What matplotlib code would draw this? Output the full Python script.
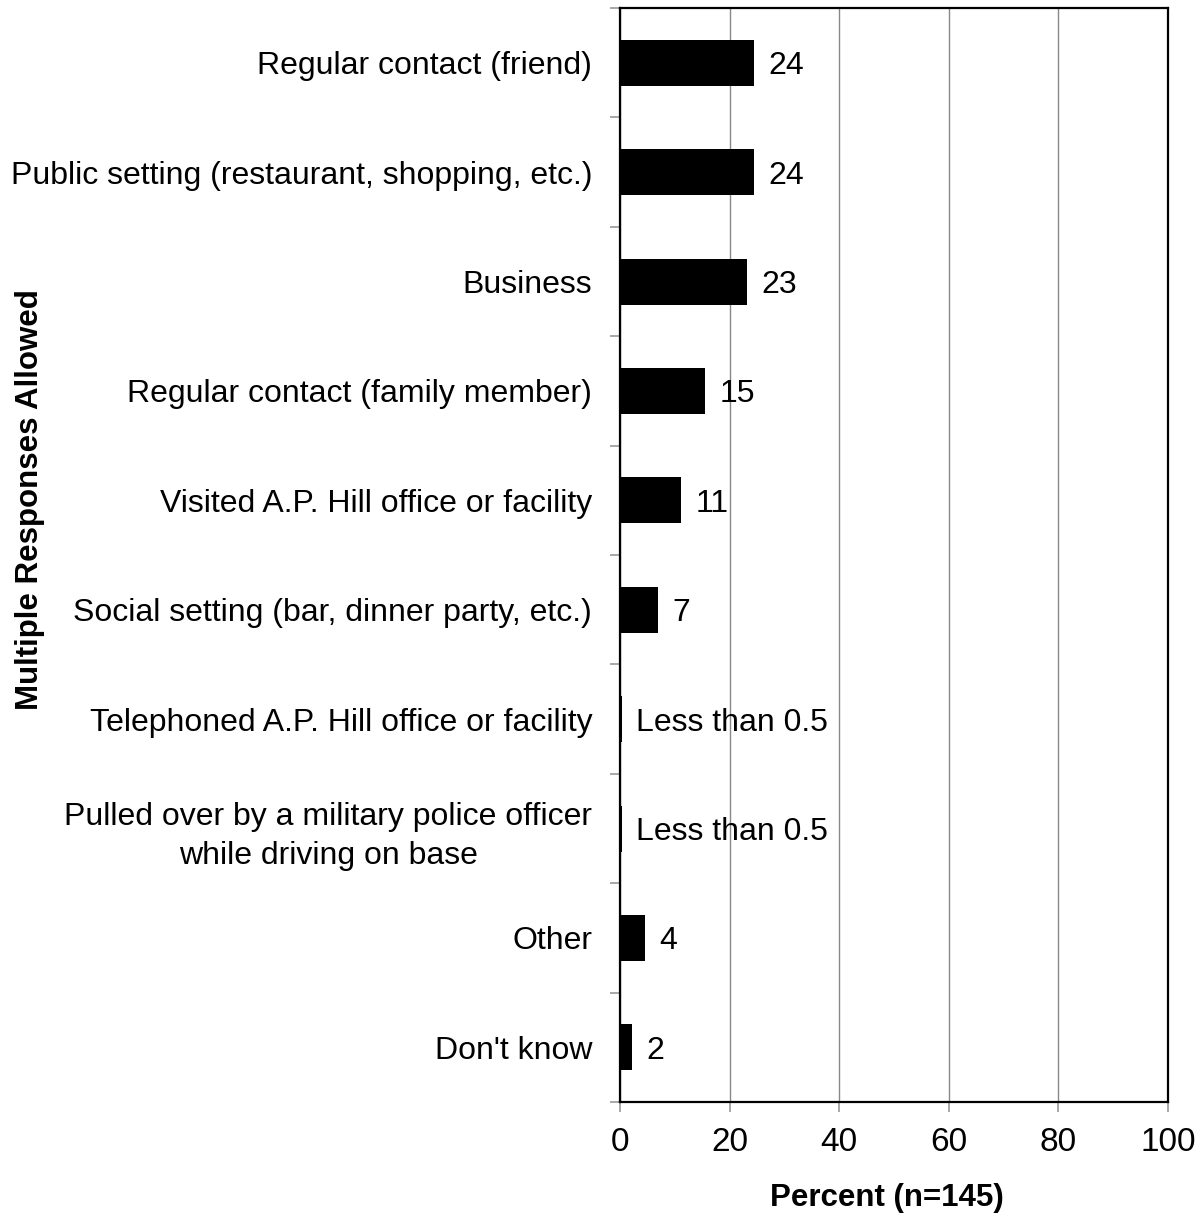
import matplotlib
matplotlib.use('Agg')
import matplotlib.pyplot as plt

categories = ['Regular contact (friend)',
              'Public setting (restaurant, shopping, etc.)',
              'Business',
              'Regular contact (family member)',
              'Visited A.P. Hill office or facility',
              'Social setting (bar, dinner party, etc.)',
              'Telephoned A.P. Hill office or facility',
              'Pulled over by a military police officer\nwhile driving on base',
              'Other',
              "Don't know"]
values = [24.4, 24.4, 23.2, 15.5, 11.1, 6.9, 0.35, 0.35, 4.6, 2.2]
value_labels = ['24', '24', '23', '15', '11', '7', 'Less than 0.5', 'Less than 0.5', '4', '2']

plt.rcParams['font.family'] = ['Liberation Sans', 'DejaVu Sans']

fig = plt.figure(figsize=(12.01, 12.18), dpi=100)
ax = fig.add_axes([0.5162, 0.0952, 0.4563, 0.8982])

pos = list(range(len(categories)))
ax.barh(pos, values, height=0.42, color='black', zorder=3)
ax.set_ylim(len(categories) - 0.5, -0.5)
ax.set_xlim(0, 100)

for p, v, lab in zip(pos, values, value_labels):
    ax.annotate(lab, (v, p), xytext=(10.5, 0), textcoords='offset points',
                va='center_baseline', ha='left', fontsize=23)

ax.set_xticks([0, 20, 40, 60, 80, 100])
ax.tick_params(axis='x', labelsize=24, length=7, color='#999999', width=1.2, pad=11)
ax.xaxis.grid(True, color='#888888', linewidth=1, zorder=0)

ax.set_yticks(pos)
ax.set_yticklabels(categories)
ax.tick_params(axis='y', which='major', length=0, labelsize=23, pad=20)
for t in ax.get_yticklabels():
    t.set_multialignment('center')
    t.set_linespacing(1.4)
ax.set_yticks([p - 0.5 for p in range(len(categories) + 1)], minor=True)
ax.tick_params(axis='y', which='minor', length=7, color='#999999', width=1.2)

for s in ax.spines.values():
    s.set_linewidth(1.6)
    s.set_color('black')

fig.text(30 / 1201, 1 - 500 / 1218, 'Multiple Responses Allowed', rotation=90,
         ha='center', va='center', fontsize=22.5, fontweight='bold')
fig.text(887 / 1201, 1 - 1198 / 1218, 'Percent (n=145)', ha='center', va='center',
         fontsize=22.5, fontweight='bold')

fig.savefig('out.png', dpi=100)
